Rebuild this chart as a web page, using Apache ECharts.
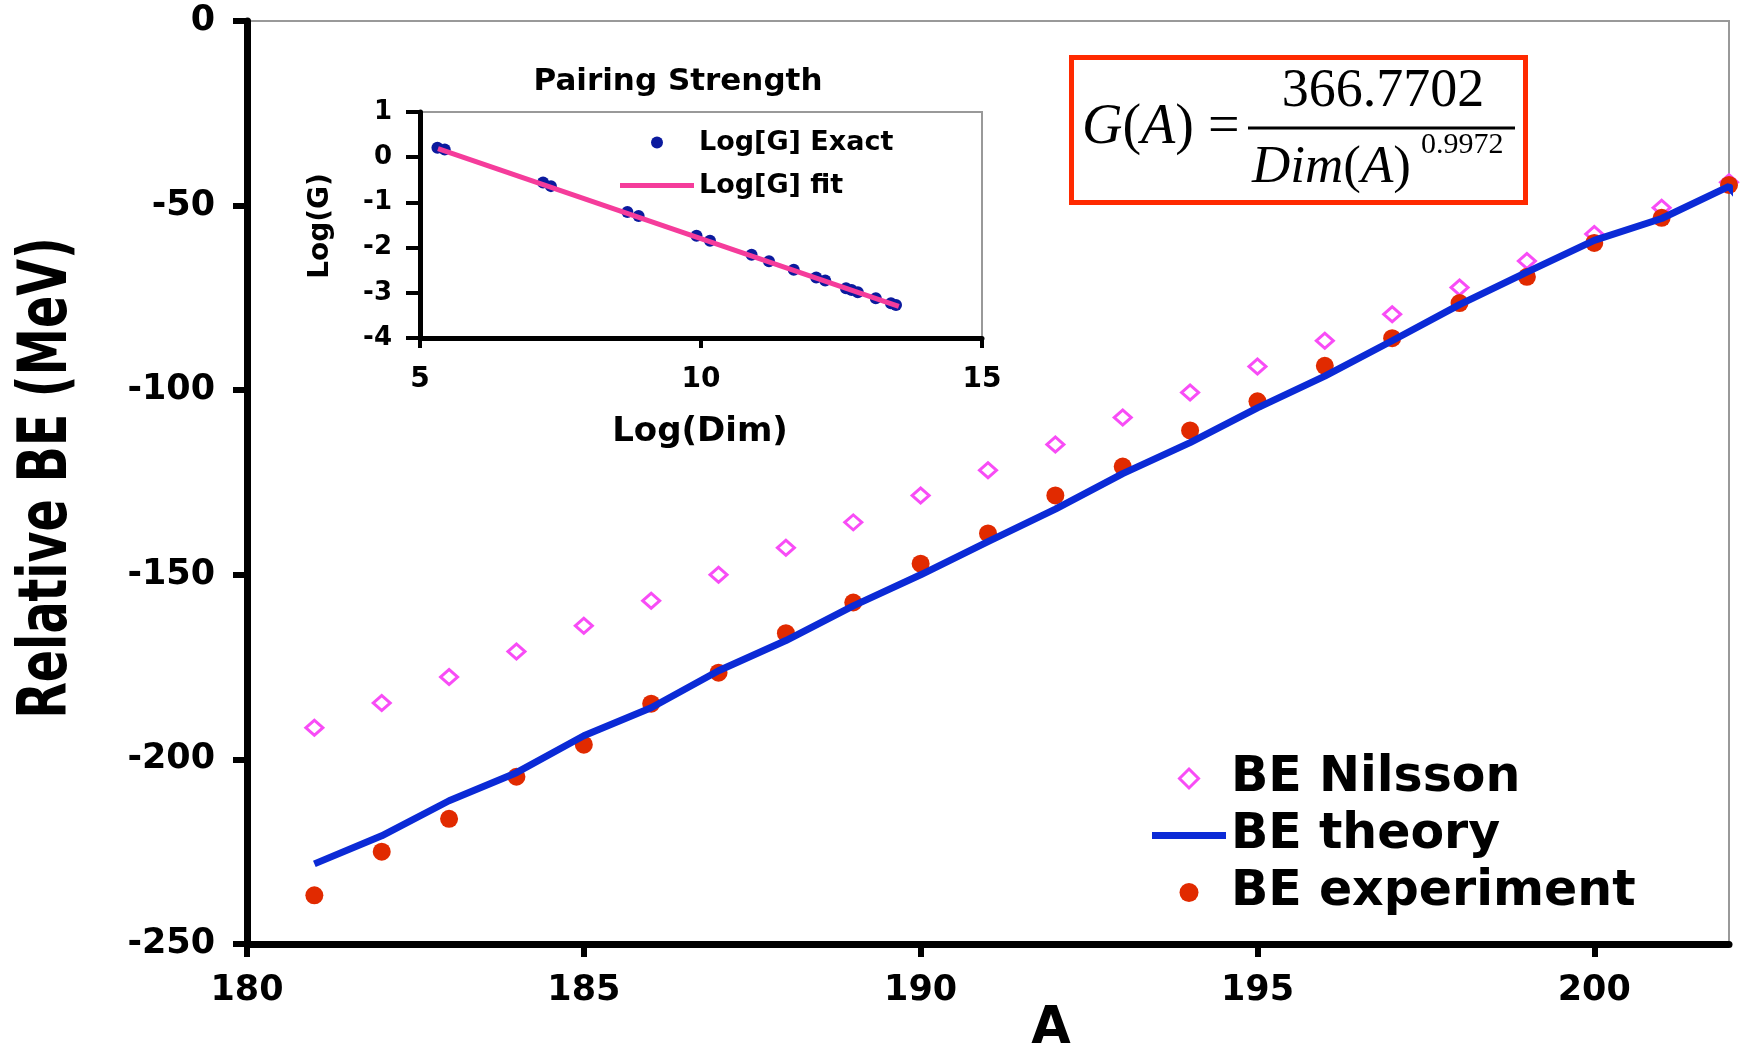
<!DOCTYPE html>
<html>
<head>
<meta charset="utf-8">
<title>Relative BE vs A</title>
<script src="https://cdn.jsdelivr.net/npm/echarts@6/dist/echarts.min.js"></script>
<style>
  html, body { margin: 0; padding: 0; background: #fff; }
  #chart { width: 1741px; height: 1049px; }
</style>
</head>
<body>
<div id="chart"></div>
<script>
// main panel: relative binding energy (MeV) vs mass number A
const massNumbers = [181, 182, 183, 184, 185, 186, 187, 188, 189, 190, 191,
  192, 193, 194, 195, 196, 197, 198, 199, 200, 201, 202];
const beNilsson = [-191.4, -184.7, -177.7, -170.8, -163.8, -157.0, -150.0, -142.7,
  -135.8, -128.5, -121.7, -114.7, -107.4, -100.6, -93.6, -86.6, -79.4, -72.2,
  -65.0, -57.7, -50.6, -43.7];
const beExperiment = [-236.8, -225.0, -216.1, -204.7, -196.0, -184.9, -176.5, -165.8,
  -157.5, -147.0, -138.8, -128.5, -120.7, -110.9, -103.0, -93.4, -85.9, -76.4,
  -69.3, -60.1, -53.3, -44.4];
const theoryA = [181, 182, 183, 184, 185, 186, 187, 188, 189, 190, 191, 192,
  193, 194, 195, 196, 197, 198, 199, 200, 201, 202, 203];
const beTheory = [-228.3, -220.7, -211.2, -203.6, -193.6, -186.0, -176.0, -167.8,
  -158.4, -150.0, -141.0, -132.2, -122.6, -114.2, -104.8, -96.2, -86.6, -76.8,
  -68.0, -59.4, -53.5, -44.8, -67.0];
const mainXTicks = [180, 185, 190, 195, 200];

// inset: pairing strength
const logDimExact = [5.31, 5.44, 7.19, 7.33, 8.69, 8.89, 9.92, 10.16, 10.90, 11.21,
  11.65, 12.05, 12.21, 12.58, 12.68, 12.79, 13.11, 13.38, 13.47];
const logGExact = [0.21, 0.17, -0.56, -0.64, -1.21, -1.30, -1.74, -1.85, -2.16, -2.30,
  -2.49, -2.66, -2.73, -2.90, -2.94, -2.99, -3.12, -3.23, -3.27];
const logDimFit = [5.32, 13.52];
const logGFit = [0.19, -3.30];

const FONT = 'DejaVu Sans';
const pairs = (xs, ys) => xs.map((x, i) => [x, ys[i]]);

// legend icons (path icons keep their aspect inside the legend box)
const ICON_DIAMOND = 'path://M10,0 L20,10 L10,20 L0,10 Z';
const ICON_THICK_LINE = 'path://M0,0 L74,0 L74,7 L0,7 Z';
const ICON_THIN_LINE = 'path://M0,0 L74,0 L74,5 L0,5 Z';

function axisStyle(lineW, tickLen, tickW, fontSize, margin) {
  return {
    axisLine: { onZero: false, lineStyle: { color: '#000', width: lineW } },
    axisTick: { show: true, inside: false, length: tickLen, lineStyle: { color: '#000', width: tickW } },
    axisLabel: { color: '#000', fontFamily: FONT, fontWeight: 'bold', fontSize: fontSize, margin: margin },
    splitLine: { show: false }
  };
}

const chart = echarts.init(document.getElementById('chart'));

const mainX = Object.assign({ type: 'value', gridIndex: 0, min: 180, max: 202, interval: 5 },
  axisStyle(7, 13, 6, 35, 29));
mainX.axisTick.customValues = mainXTicks;
mainX.axisLabel.customValues = mainXTicks;

const mainY = Object.assign({ type: 'value', gridIndex: 0, min: -250, max: 0, interval: 50 },
  axisStyle(7, 14, 6, 35, 32));

const insetX = Object.assign({ type: 'value', gridIndex: 1, min: 5, max: 15, interval: 5 },
  axisStyle(5, 10, 4, 28, 28));
const insetY = Object.assign({ type: 'value', gridIndex: 1, min: -4, max: 1, interval: 1 },
  axisStyle(5, 14, 4, 26, 28));

const serif = '"Liberation Serif", "Times New Roman", serif';

const option = {
  animation: false,
  backgroundColor: '#fff',
  grid: [
    { left: 247, top: 21, right: 12, bottom: 105, show: true, borderColor: '#999',
      borderWidth: 2, backgroundColor: 'transparent', containLabel: false, outerBoundsMode: 'none' },
    { left: 420, top: 112, width: 562, height: 226, show: true, borderColor: '#999',
      borderWidth: 2, backgroundColor: 'transparent', containLabel: false, outerBoundsMode: 'none' }
  ],
  xAxis: [mainX, insetX],
  yAxis: [mainY, insetY],
  legend: [
    {
      orient: 'vertical', left: 1152, top: 754, padding: 0,
      itemWidth: 74, itemHeight: 19, itemGap: 8, selectedMode: false,
      symbolKeepAspect: true,
      textStyle: { color: '#000', fontFamily: FONT, fontWeight: 'bold', fontSize: 49, lineHeight: 48 },
      data: [
        { name: 'BE Nilsson', icon: ICON_DIAMOND,
          itemStyle: { color: 'rgba(255,255,255,0)', borderColor: '#f84cf6', borderWidth: 3, opacity: 1 } },
        { name: 'BE theory', icon: ICON_THICK_LINE,
          itemStyle: { color: '#0b2ad6', borderWidth: 0, opacity: 1 } },
        { name: 'BE experiment', icon: 'circle',
          itemStyle: { color: '#e12a00', borderWidth: 0, opacity: 1 } }
      ]
    },
    {
      orient: 'vertical', left: 620, top: 129, padding: 0,
      itemWidth: 74, itemHeight: 12, itemGap: 16, selectedMode: false,
      symbolKeepAspect: true,
      textStyle: { color: '#000', fontFamily: FONT, fontWeight: 'bold', fontSize: 27, lineHeight: 27 },
      data: [
        { name: 'Log[G] Exact', icon: 'circle',
          itemStyle: { color: '#0b1a9e', borderWidth: 0, opacity: 1 } },
        { name: 'Log[G] fit', icon: ICON_THIN_LINE,
          itemStyle: { color: '#f53c9b', borderWidth: 0, opacity: 1 } }
      ]
    }
  ],
  series: [
    {
      name: 'BE Nilsson', type: 'scatter', xAxisIndex: 0, yAxisIndex: 0,
      data: pairs(massNumbers, beNilsson),
      symbol: 'diamond', symbolSize: [17, 15],
      itemStyle: { color: 'rgba(255,255,255,0)', borderColor: '#f84cf6', borderWidth: 3, opacity: 1 },
      emphasis: { disabled: true }
    },
    {
      name: 'BE theory', type: 'line', xAxisIndex: 0, yAxisIndex: 0,
      data: pairs(theoryA, beTheory), clip: false,
      symbol: 'none', lineStyle: { color: '#0b2ad6', width: 7 },
      itemStyle: { color: '#0b2ad6' },
      emphasis: { disabled: true }
    },
    {
      name: 'BE experiment', type: 'scatter', xAxisIndex: 0, yAxisIndex: 0,
      data: pairs(massNumbers, beExperiment),
      symbol: 'circle', symbolSize: 18,
      itemStyle: { color: '#e12a00', opacity: 1 },
      emphasis: { disabled: true }
    },
    {
      name: 'Log[G] fit', type: 'line', xAxisIndex: 1, yAxisIndex: 1,
      data: pairs(logDimFit, logGFit),
      symbol: 'none', lineStyle: { color: '#f53c9b', width: 5 },
      itemStyle: { color: '#f53c9b' },
      emphasis: { disabled: true }
    },
    {
      name: 'Log[G] Exact', type: 'scatter', xAxisIndex: 1, yAxisIndex: 1,
      data: pairs(logDimExact, logGExact),
      symbol: 'circle', symbolSize: 12,
      itemStyle: { color: '#0b1a9e', opacity: 1 },
      emphasis: { disabled: true }
    }
  ],
  graphic: [
    // axis titles
    { type: 'text', x: 48, y: 478, rotation: Math.PI / 2, scaleX: 0.7,
      style: { text: 'Relative BE (MeV)', font: 'bold 68px "DejaVu Sans"', fill: '#000',
        align: 'center', verticalAlign: 'middle' } },
    { type: 'text', x: 1051, y: 1030,
      style: { text: 'A', font: 'bold 51px "DejaVu Sans"', fill: '#000',
        align: 'center', verticalAlign: 'middle' } },
    // inset titles
    { type: 'text', x: 678, y: 82,
      style: { text: 'Pairing Strength', font: 'bold 31px "DejaVu Sans"', fill: '#000',
        align: 'center', verticalAlign: 'middle' } },
    { type: 'text', x: 321, y: 226, rotation: Math.PI / 2,
      style: { text: 'Log(G)', font: 'bold 28px "DejaVu Sans"', fill: '#000',
        align: 'center', verticalAlign: 'middle' } },
    { type: 'text', x: 700, y: 432,
      style: { text: 'Log(Dim)', font: 'bold 34px "DejaVu Sans"', fill: '#000',
        align: 'center', verticalAlign: 'middle' } },
    // formula box
    { type: 'rect', shape: { x: 1071.5, y: 57.5, width: 454, height: 145 },
      style: { fill: '#fff', stroke: '#ff2a00', lineWidth: 5 } },
    { type: 'text', x: 1082, y: 128,
      style: { text: '{i|G}{n|(}{i|A}{n|) =}', fill: '#000', align: 'left', verticalAlign: 'middle',
        font: '56px ' + serif,
        rich: { i: { font: 'italic 56px ' + serif }, n: { font: '56px ' + serif } } } },
    { type: 'text', x: 1383, y: 92,
      style: { text: '366.7702', font: '54px ' + serif, fill: '#000',
        align: 'center', verticalAlign: 'middle' } },
    { type: 'line', shape: { x1: 1248, y1: 128, x2: 1515, y2: 128 },
      style: { stroke: '#000', lineWidth: 3 } },
    { type: 'text', x: 1252, y: 168,
      style: { text: '{i|Dim}{n|(}{i|A}{n|)}', fill: '#000', align: 'left', verticalAlign: 'middle',
        font: '53px ' + serif,
        rich: { i: { font: 'italic 53px ' + serif }, n: { font: '53px ' + serif } } } },
    { type: 'text', x: 1421, y: 145,
      style: { text: '0.9972', font: '30px ' + serif, fill: '#000',
        align: 'left', verticalAlign: 'middle' } }
  ]
};

chart.setOption(option);
</script>
</body>
</html>
